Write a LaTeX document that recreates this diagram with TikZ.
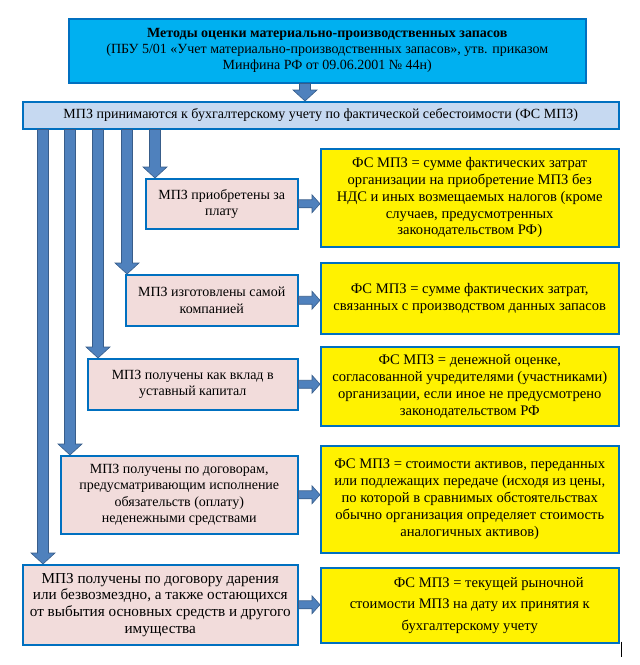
\documentclass[tikz,border=0pt]{standalone}
\usepackage{fontspec}
\setmainfont{Liberation Serif}
\usetikzlibrary{calc}

\definecolor{topblue}{HTML}{00B0F0}
\definecolor{edgeblue}{HTML}{0070C0}
\definecolor{barblue}{HTML}{C6D9F1}
\definecolor{pinkbox}{HTML}{F2DCDB}
\definecolor{arrowblue}{HTML}{4F81BD}
\definecolor{arrowedge}{HTML}{385D8A}

\tikzset{
	box/.style={draw=edgeblue, line width=1.5pt, align=center, inner sep=0pt, anchor=north west},
	topbox/.style={box, fill=topblue, font={\fontsize{14}{16}\selectfont}},
	barbox/.style={box, fill=barblue, font={\fontsize{14}{16}\selectfont}},
	casebox/.style={box, fill=pinkbox, font={\fontsize{14}{16.5}\selectfont}},
	valuebox/.style={box, fill=yellow, font={\fontsize{14.6}{16.8}\selectfont}},
	blkarrow/.style={fill=arrowblue, draw=arrowedge, line width=0.6pt}
}

\newcommand{\blkdown}[2]{%
	\path[blkarrow] let \p1=(#1), \p2=(#2) in
		(\x1-5.5pt,\y1) -- (\x1-5.5pt,\y2+11pt) -- (\x1-12pt,\y2+11pt) -- (\x1,\y2)
		-- (\x1+12pt,\y2+11pt) -- (\x1+5.5pt,\y2+11pt) -- (\x1+5.5pt,\y1) -- cycle;}
\newcommand{\blkright}[2]{%
	\path[blkarrow] let \p1=(#1), \p2=(#2) in
		(\x1,\y1+4pt) -- (\x2-8pt,\y1+4pt) -- (\x2-8pt,\y1+9pt) -- (\x2,\y1)
		-- (\x2-8pt,\y1-9pt) -- (\x2-8pt,\y1-4pt) -- (\x1,\y1-4pt) -- cycle;}

\begin{document}
\begin{tikzpicture}[x=1pt, y=-1pt]
	\useasboundingbox (0,0) rectangle (640,665);

	\node [topbox, minimum width=517pt, minimum height=64pt] (top) at (68,18)
		{\textbf{Методы оценки материально-производственных запасов}\\
		(ПБУ 5/01 «Учет материально-производственных запасов», утв. приказом\\
		Минфина РФ от 09.06.2001 № 44н)};
	\node [barbox, minimum width=596pt, minimum height=27pt] (bar) at (22,101)
		{МПЗ принимаются к бухгалтерскому учету по фактической себестоимости (ФС МПЗ)};

	\node [casebox, minimum width=152pt, minimum height=50pt] (l1) at (145,178)
		{МПЗ приобретены за\\ плату};
	\node [casebox, minimum width=172pt, minimum height=51pt] (l2) at (125,274)
		{МПЗ изготовлены самой\\ компанией};
	\node [casebox, minimum width=210pt, minimum height=51pt] (l3) at (87,358)
		{МПЗ получены как вклад в\\ уставный капитал};
	\node [casebox, minimum width=237pt, minimum height=78pt] (l4) at (60,455)
		{МПЗ получены по договорам,\\ предусматривающим исполнение\\ обязательств (оплату)\\ неденежными средствами};
	\node [casebox, minimum width=275pt, minimum height=80pt, font={\fontsize{15.2}{16.7}\selectfont}] (l5) at (22,564)
		{МПЗ получены по договору дарения\\ или безвозмездно, а также остающихся\\ от выбытия основных средств и другого\\ имущества};

	\node [valuebox, minimum width=298pt, minimum height=98pt] (r1) at (320,148)
		{ФС МПЗ = сумме фактических затрат\\ организации на приобретение МПЗ без\\ НДС и иных возмещаемых налогов (кроме\\ случаев, предусмотренных\\ законодательством РФ)};
	\node [valuebox, minimum width=298pt, minimum height=71pt] (r2) at (320,262)
		{ФС МПЗ = сумме фактических затрат,\\ связанных с производством данных запасов};
	\node [valuebox, minimum width=298pt, minimum height=79pt] (r3) at (320,346)
		{ФС МПЗ = денежной оценке,\\ согласованной учредителями (участниками)\\ организации, если иное не предусмотрено\\ законодательством РФ};
	\node [valuebox, minimum width=298pt, minimum height=107pt] (r4) at (320,445)
		{ФС МПЗ = стоимости активов, переданных\\ или подлежащих передаче (исходя из цены,\\ по которой в сравнимых обстоятельствах\\ обычно организация определяет стоимость\\ аналогичных активов)};
	\node [valuebox, minimum width=298pt, minimum height=75pt, font={\fontsize{14.6}{21.5}\selectfont}] (r5) at (320,567)
		{\hspace*{38pt}ФС МПЗ = текущей рыночной\\ стоимости МПЗ на дату их принятия к\\ бухгалтерскому учету};

	\coordinate (vtop) at (305,0);
	\blkdown{top.south -| vtop}{bar.north -| vtop}
	\foreach \xx/\nm in {43/l5, 70/l4, 98/l3, 127/l2, 155/l1} {
		\coordinate (v\nm) at (\xx,0);
		\blkdown{bar.south -| v\nm}{\nm.north -| v\nm}
	}
	\foreach \i in {1,...,5} {
		\blkright{l\i.east}{l\i.east -| r\i.west}
	}

	\draw [line width=1pt] ($(r5.south east)+(2,-2)$) -- ($(r5.south east)+(2,13)$);
\end{tikzpicture}
\end{document}
